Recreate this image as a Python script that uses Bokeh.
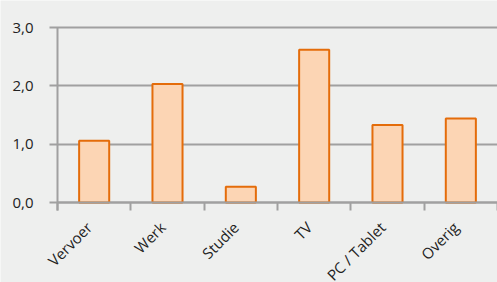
from bokeh.plotting import figure
from bokeh.models import Range1d, FixedTicker, ColumnDataSource
from bokeh.core.properties import value
from bokeh.embed import file_html
from bokeh.resources import INLINE
import math

categories = ["Vervoer", "Werk", "Studie", "TV", "PC / Tablet", "Overig"]
values = [1.06, 2.03, 0.27, 2.62, 1.33, 1.44]
y_ticks = [0, 1, 2, 3]
y_tick_labels = ["0,0", "1,0", "2,0", "3,0"]

BG = "#eeefee"
GRID = "#a0a0a0"
FONT = "Open Sans"
TXT = "#222222"

centers = [i + 0.5 for i in range(len(categories))]
bounds = list(range(len(categories) + 1))

src = ColumnDataSource(dict(x=centers, top=values, name=categories,
                            base=[0] * len(categories)))

# the frame fills the whole figure, so that axis labels and rotated
# category labels are drawn inside it; the value axis sits at x = 0
p = figure(width=497, height=282, output_backend="svg", toolbar_location=None,
           x_range=Range1d(-0.7773, len(categories)), y_range=Range1d(-1.3714, 3.4629),
           min_border_left=0, min_border_right=0, min_border_top=0, min_border_bottom=0)
p.background_fill_color = BG
p.border_fill_color = BG
p.outline_line_color = None

p.vbar(x="x", top="top", width=0.41, bottom=0, source=src,
       fill_color="#fcd5b4", line_color="#e46c0a", line_width=2)

# y axis at category position 0; its long inward ticks are the grid lines
yax = p.yaxis[0]
yax.fixed_location = 0
yax.level = "underlay"
yax.ticker = FixedTicker(ticks=y_ticks)
yax.bounds = (-0.137, 3.0)
yax.major_label_overrides = {t: l for t, l in zip(y_ticks, y_tick_labels)}
yax.axis_line_color = GRID
yax.axis_line_width = 2
yax.major_tick_line_color = GRID
yax.major_tick_line_width = 2
yax.major_tick_out = 8
yax.major_tick_in = 440
yax.minor_tick_line_color = None
yax.major_label_standoff = 16
yax.major_label_text_font = FONT
yax.major_label_text_font_size = "15px"
yax.major_label_text_color = TXT

# x axis at value 0: tick marks at category boundaries
xax = p.xaxis[0]
xax.fixed_location = 0
xax.bounds = (0, len(categories))
xax.ticker = FixedTicker(ticks=[], minor_ticks=bounds)
xax.axis_line_color = GRID
xax.axis_line_width = 2
xax.major_tick_line_color = None
xax.major_tick_out = 0
xax.major_label_standoff = 0
xax.minor_tick_line_color = GRID
xax.minor_tick_line_width = 2
xax.minor_tick_out = 8
xax.minor_tick_in = 0
xax.major_label_text_font_size = "0px"

# category labels, rotated 45 degrees
p.text(x="x", y="base", text="name", source=src,
       angle=math.pi / 4, text_align="right", text_baseline="middle",
       x_offset=-5, y_offset=22,
       text_font=value(FONT), text_font_size=value("15px"), text_color=TXT)

p.xgrid.grid_line_color = None
p.ygrid.grid_line_color = None

open("out.html", "w").write(file_html(p, INLINE))
